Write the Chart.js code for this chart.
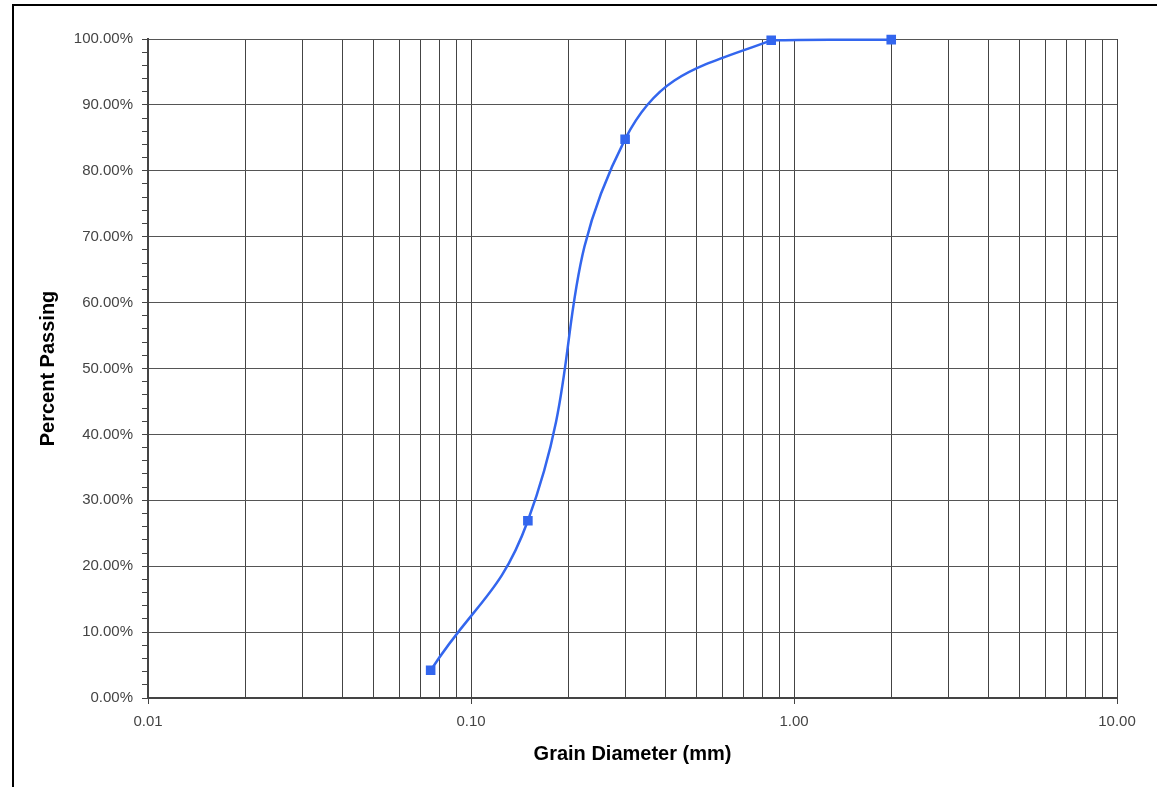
<!DOCTYPE html>
<html>
<head>
<meta charset="utf-8">
<script src="https://cdn.jsdelivr.net/npm/chart.js@4"></script>
<style>
  html, body { margin: 0; padding: 0; background: #fff; }
  #wrap { position: relative; width: 1157px; height: 787px; }
</style>
</head>
<body>
<div id="wrap"><canvas id="c" width="1157" height="787"></canvas></div>
<script>
// sieve results
const grainSize = [0.075, 0.15, 0.3, 0.85, 2.0]
const percentPassing = [4.2, 26.9, 84.8, 99.8, 99.9]

const xTicks = [0.01, 0.02, 0.03, 0.04, 0.05, 0.06, 0.07, 0.08, 0.09,
                0.1, 0.2, 0.3, 0.4, 0.5, 0.6, 0.7, 0.8, 0.9,
                1, 2, 3, 4, 5, 6, 7, 8, 9, 10]
const xLabels = [0.01, 0.1, 1, 10]

function isDecade(v){
    return xLabels.some(d => Math.abs(d - v) < 1e-9)
}

// frame around the picture (left and top edges like the original)
const framePlugin = {
    id: "frame",
    afterDraw(chart){
        const ctx = chart.ctx
        ctx.save()
        ctx.strokeStyle = "#000"
        ctx.lineWidth = 2
        ctx.beginPath()
        ctx.moveTo(13, 787)
        ctx.lineTo(13, 5)
        ctx.lineTo(1157, 5)
        ctx.stroke()
        ctx.restore()
    }
}

const ctx = document.getElementById("c").getContext("2d")

new Chart(ctx, {
    type: "line",
    data: {
        datasets: [
            {
                label: "Percent Passing",
                data: grainSize.map((g, i) => ({x: g, y: percentPassing[i]})),
                borderColor: "#3366ee",
                backgroundColor: "#3366ee",
                borderWidth: 2.5,
                pointStyle: "rect",
                pointRadius: 5,
                pointHoverRadius: 5,
                tension: 0.45,
                clip: 10,
                fill: false
            }
        ]
    },
    options: {
        responsive: false,
        animation: false,
        layout: { padding: { left: 0, right: 40, top: 39, bottom: 0 } },
        plugins: {
            legend: { display: false },
            tooltip: { enabled: false }
        },
        scales: {
            x: {
                type: "logarithmic",
                min: 0.01,
                max: 10,
                afterBuildTicks: (scale) => {
                    scale.ticks = xTicks.map(v => ({value: v, major: isDecade(v)}))
                },
                afterFit: (scale) => { scale.height = 89 },
                grid: {
                    color: "#444",
                    lineWidth: 1,
                    tickLength: 6,
                    tickColor: (c) => isDecade(c.tick.value) ? "#444" : "rgba(0,0,0,0)"
                },
                border: { color: "#444", width: 2 },
                ticks: {
                    autoSkip: false,
                    maxRotation: 0,
                    padding: 9,
                    color: "#444",
                    font: { family: "Liberation Sans", size: 15 },
                    callback: (v) => isDecade(v) ? v.toFixed(2) : ""
                },
                title: {
                    display: true,
                    text: "Grain Diameter (mm)",
                    color: "#000",
                    font: { family: "Liberation Sans", size: 20, weight: "bold" },
                    padding: { top: 0, bottom: 21 }
                }
            },
            y: {
                min: 0,
                max: 100,
                afterFit: (scale) => { scale.width = 148 },
                grid: {
                    color: (c) => c.tick.value % 10 === 0 ? "#555" : "rgba(0,0,0,0)",
                    lineWidth: 1,
                    tickLength: 6,
                    tickColor: "#444"
                },
                border: { color: "#444", width: 2 },
                ticks: {
                    stepSize: 2,
                    autoSkip: false,
                    padding: 9,
                    color: "#444",
                    font: { family: "Liberation Sans", size: 15 },
                    callback: (v) => v % 10 === 0 ? v.toFixed(2) + "%" : ""
                },
                title: {
                    display: true,
                    text: "Percent Passing",
                    color: "#000",
                    font: { family: "Liberation Sans", size: 20, weight: "bold" },
                    padding: { top: 36, bottom: 0 }
                }
            }
        }
    },
    plugins: [framePlugin]
})
</script>
</body>
</html>
